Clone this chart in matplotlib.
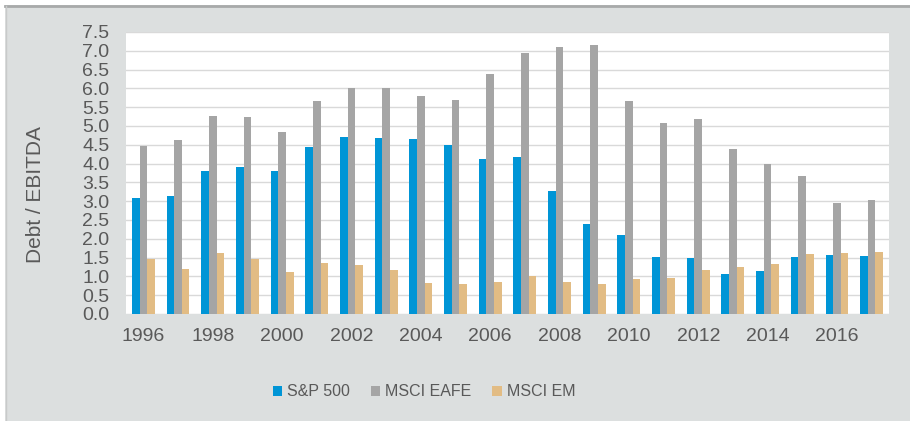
import matplotlib
matplotlib.use("Agg")
import matplotlib.pyplot as plt
import numpy as np
from matplotlib.patches import Rectangle
from matplotlib.lines import Line2D

years = list(range(1996, 2018))
sp500 = [3.09, 3.15, 3.81, 3.90, 3.81, 4.44, 4.71, 4.69, 4.65, 4.50, 4.11,
         4.17, 3.27, 2.40, 2.10, 1.51, 1.48, 1.06, 1.15, 1.51, 1.57, 1.54]
eafe = [4.47, 4.64, 5.27, 5.24, 4.85, 5.66, 6.02, 6.00, 5.80, 5.69, 6.38,
        6.95, 7.09, 7.15, 5.66, 5.09, 5.18, 4.40, 3.99, 3.68, 2.96, 3.03]
em = [1.45, 1.21, 1.62, 1.45, 1.12, 1.36, 1.30, 1.18, 0.83, 0.79, 0.84,
      1.01, 0.84, 0.79, 0.94, 0.97, 1.18, 1.24, 1.33, 1.60, 1.62, 1.66]
series_names = ["S&P 500", "MSCI EAFE", "MSCI EM"]
yticks = [0.0, 0.5, 1.0, 1.5, 2.0, 2.5, 3.0, 3.5, 4.0, 4.5, 5.0, 5.5, 6.0, 6.5, 7.0, 7.5]

colors = ["#0095d6", "#a5a5a5", "#e2bc84"]
bg = "#dcdfdf"
txt = "#595959"

plt.rcParams['font.family'] = ['Liberation Sans', 'DejaVu Sans']

fig = plt.figure(figsize=(9.10, 4.21), dpi=100, facecolor="white")
fig.patches.append(Rectangle((5/910, 0), 1, 1 - 5/421, transform=fig.transFigure,
                             facecolor=bg, edgecolor="none", zorder=-10))
fig.lines.append(Line2D([5/910, 1], [1 - 6/421, 1 - 6/421], transform=fig.transFigure,
                        color="#a8aaaa", lw=2))
fig.lines.append(Line2D([5.5/910, 5.5/910], [0, 1 - 6/421], transform=fig.transFigure,
                        color="#c8caca", lw=1))

ax = fig.add_axes([126/910, 1 - 314/421, (889 - 126)/910, (314 - 32)/421])
ax.set_facecolor("white")
x = np.arange(len(years))
w = 0.22
for i, (vals, name) in enumerate(zip([sp500, eafe, em], series_names)):
    ax.bar(x + (i - 1) * w, vals, width=w, color=colors[i], label=name, zorder=3)

ax.set_xlim(-0.5, len(years) - 0.5)
ax.set_ylim(0, 7.5)
ax.set_yticks(yticks)
ax.set_yticklabels([f"{v:.1f}" for v in yticks])
ax.set_xticks(x[::2])
ax.set_xticklabels([str(y) for y in years[::2]])
ax.yaxis.grid(True, color="#d9d9d9", lw=1, zorder=0)
ax.set_axisbelow(True)
for s in ax.spines.values():
    s.set_visible(False)
ax.tick_params(axis="both", length=0, colors=txt, labelsize=14)
ax.tick_params(axis="y", pad=12)
ax.tick_params(axis="x", pad=10)
ax.set_ylabel("Debt / EBITDA", color=txt, fontsize=15)
ax.yaxis.set_label_coords(-0.106, 0.424)

leg = fig.legend(loc="center", bbox_to_anchor=(424/910, 1 - 392/421), ncol=3,
                 frameon=False, fontsize=11.5, handlelength=0.6, handleheight=0.6,
                 handletextpad=0.3, columnspacing=1.3)
for t in leg.get_texts():
    t.set_color(txt)

fig.savefig("out.png", dpi=100, facecolor=fig.get_facecolor())
